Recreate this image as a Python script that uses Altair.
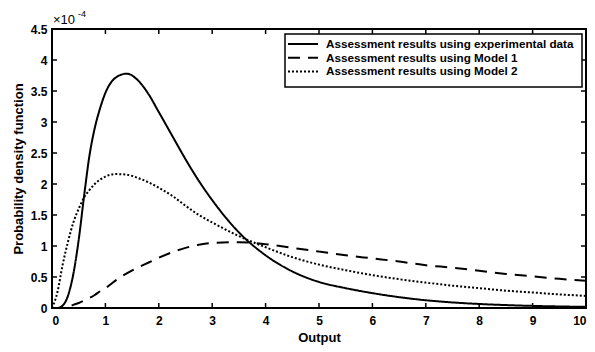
import altair as alt
import pandas as pd

x_vals = [0, 0.1, 0.2, 0.3, 0.4, 0.5, 0.6, 0.7, 0.8, 0.9, 1.0, 1.2, 1.4, 1.6, 1.8, 2.0, 2.25, 2.5, 2.75, 3.0,
          3.5, 4.0, 4.5, 5.0, 5.5, 6.0, 6.5, 7.0, 7.5, 8.0, 8.5, 9.0, 9.5, 10]
exp_vals = [0, 0, 0.04, 0.2, 0.55, 1.1, 1.8, 2.45, 2.9, 3.22, 3.47, 3.72, 3.78, 3.68, 3.46, 3.16, 2.78, 2.40, 2.05, 1.74,
            1.22, 0.85, 0.59, 0.42, 0.32, 0.24, 0.175, 0.125, 0.09, 0.065, 0.047, 0.034, 0.025, 0.018]
m1_vals = [0, 0, 0, 0.02, 0.05, 0.08, 0.12, 0.16, 0.21, 0.27, 0.32, 0.45, 0.56, 0.65, 0.73, 0.81, 0.9, 0.97, 1.02, 1.05,
           1.06, 1.03, 0.97, 0.91, 0.85, 0.8, 0.75, 0.69, 0.65, 0.6, 0.55, 0.51, 0.47, 0.44]
m2_vals = [0, 0.25, 0.7, 1.07, 1.38, 1.6, 1.78, 1.9, 2.0, 2.07, 2.12, 2.16, 2.15, 2.1, 2.03, 1.94, 1.81, 1.65, 1.5, 1.38,
           1.16, 0.98, 0.82, 0.70, 0.61, 0.53, 0.465, 0.41, 0.36, 0.32, 0.28, 0.25, 0.22, 0.195]

series_names = ["Assessment results using experimental data",
                "Assessment results using Model 1",
                "Assessment results using Model 2"]
dash_styles = [[1, 0], [12, 8], [2, 2]]
x_ticks = [0, 1, 2, 3, 4, 5, 6, 7, 8, 9, 10]
y_ticks = [0, 0.5, 1, 1.5, 2, 2.5, 3, 3.5, 4, 4.5]

rows = []
for name, vals in zip(series_names, [exp_vals, m1_vals, m2_vals]):
    for xv, yv in zip(x_vals, vals):
        rows.append({"x": xv, "y": yv, "series": name})
df = pd.DataFrame(rows)

W, H = 534, 279
FONT = "Liberation Sans"

xscale = alt.Scale(domain=[0, 10], nice=False)
yscale = alt.Scale(domain=[0, 4.5], nice=False)
xaxis = alt.Axis(values=x_ticks, tickSize=0, domain=False, grid=False, title="Output",
                 labelPadding=7, format="d", titlePadding=5)
yaxis = alt.Axis(values=y_ticks, tickSize=0, domain=False, grid=False,
                 title="Probability density function", labelPadding=5, format="~r", titlePadding=5)

lines = alt.Chart(df).mark_line(color="black", strokeWidth=2, interpolate="monotone", clip=True).encode(
    x=alt.X("x:Q", scale=xscale, axis=xaxis),
    y=alt.Y("y:Q", scale=yscale, axis=yaxis),
    strokeDash=alt.StrokeDash("series:N", scale=alt.Scale(domain=series_names, range=dash_styles),
                              legend=None),
)

xt_df = pd.DataFrame({"x": x_ticks})
yt_df = pd.DataFrame({"y": y_ticks})
tick_x_bottom = alt.Chart(xt_df).mark_rule(color="black", strokeWidth=1.5).encode(
    x=alt.X("x:Q", scale=xscale, axis=xaxis), y=alt.value(H), y2=alt.value(H - 5))
tick_x_top = alt.Chart(xt_df).mark_rule(color="black", strokeWidth=1.5).encode(
    x=alt.X("x:Q", scale=xscale, axis=xaxis), y=alt.value(0), y2=alt.value(5))
tick_y_left = alt.Chart(yt_df).mark_rule(color="black", strokeWidth=1.5).encode(
    y=alt.Y("y:Q", scale=yscale, axis=yaxis), x=alt.value(0), x2=alt.value(5))
tick_y_right = alt.Chart(yt_df).mark_rule(color="black", strokeWidth=1.5).encode(
    y=alt.Y("y:Q", scale=yscale, axis=yaxis), x=alt.value(W), x2=alt.value(W - 5))

one = pd.DataFrame({"a": [0]})
mult = alt.Chart(one).mark_text(text="×10", align="left", baseline="alphabetic", fontSize=13,
                                font=FONT, color="black").encode(x=alt.value(1), y=alt.value(-5))
expo = alt.Chart(one).mark_text(text="-4", align="left", baseline="alphabetic", fontSize=9,
                                font=FONT, color="black").encode(x=alt.value(26), y=alt.value(-12))

# legend (drawn manually)
LX, LY, LW, LH = 233, 5, 297, 53
legend_box = alt.Chart(one).mark_rect(fill="white", stroke="black", strokeWidth=1.5).encode(
    x=alt.value(LX), x2=alt.value(LX + LW), y=alt.value(LY), y2=alt.value(LY + LH))
legend_layers = [legend_box]
for i, (name, dash) in enumerate(zip(series_names, dash_styles)):
    ry = LY + 10 + 13.7 * i
    legend_layers.append(
        alt.Chart(one).mark_rule(color="black", strokeWidth=2, strokeDash=dash).encode(
            x=alt.value(LX + 3), x2=alt.value(LX + 33), y=alt.value(ry)))
    legend_layers.append(
        alt.Chart(one).mark_text(text=name, align="left", baseline="middle", fontSize=11.7,
                                 fontWeight="bold", font=FONT, color="black").encode(
            x=alt.value(LX + 41), y=alt.value(ry)))

chart = alt.layer(lines, tick_x_bottom, tick_x_top, tick_y_left, tick_y_right, mult, expo,
                  *legend_layers).properties(
    width=W, height=H, autosize="none",
    padding={"left": 44, "top": 21, "right": 1, "bottom": 40},
).configure(font=FONT).configure_view(stroke="black", strokeWidth=2).configure_axis(
    labelFont=FONT, labelFontSize=12, labelFontWeight="bold", labelColor="black",
    titleFont=FONT, titleFontSize=13, titleFontWeight="bold", titleColor="black",
)

chart.save("out.html", embed_options={"renderer": "svg", "actions": False})
